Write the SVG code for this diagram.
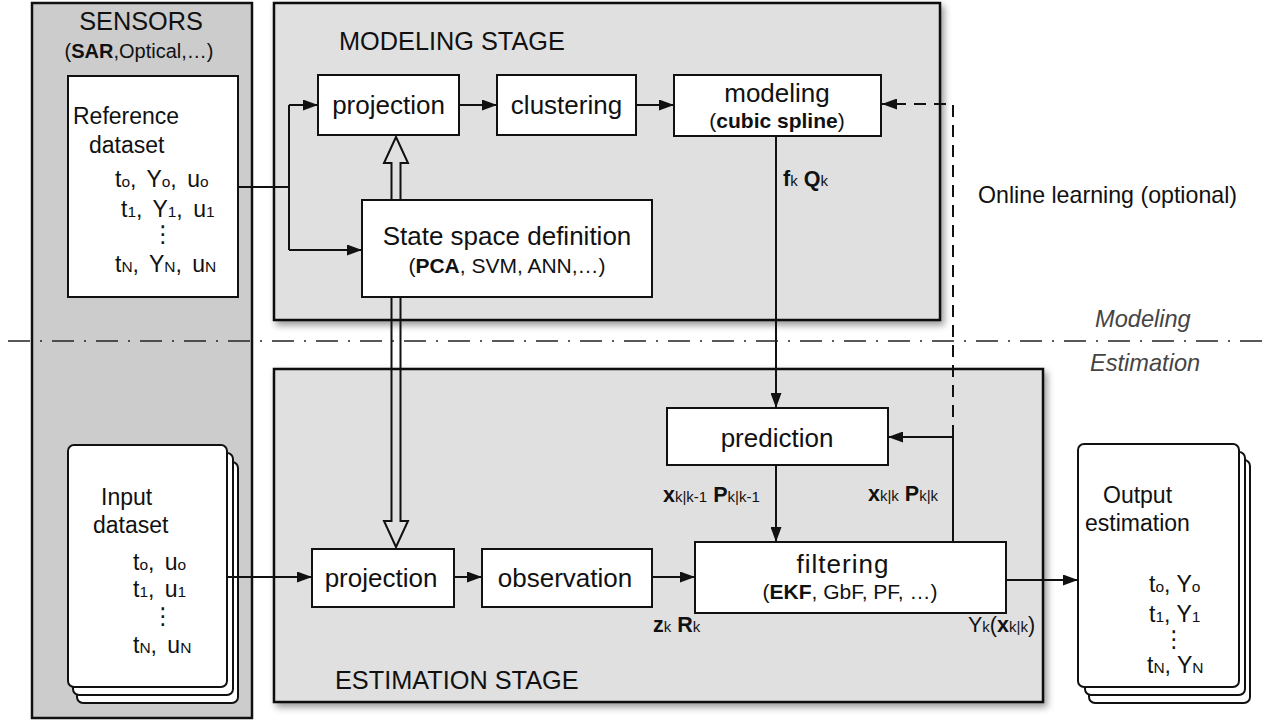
<svg xmlns="http://www.w3.org/2000/svg" width="1268" height="720" viewBox="0 0 1268 720">
  <style>
    text { font-family: "Liberation Sans", "DejaVu Sans", Arial, sans-serif; fill: #111; }
    .stage { fill: #e0e0e0; stroke: #111; stroke-width: 2.5; filter: url(#shadow); }
    .sensor { fill: #cccccc; stroke: #111; stroke-width: 2.5; }
    .box { fill: #fff; stroke: #111; stroke-width: 2; }
    .page { fill: #fff; stroke: #111; stroke-width: 2; }
    .title { font-size: 25.3px; }
    .lbl { font-size: 26px; text-anchor: middle; }
    .sublbl { font-size: 21px; text-anchor: middle; }
    .ds { font-size: 23px; }
    .row { font-size: 23px; }
    .wide { word-spacing: 4px; }
    .sub { font-size: 15.5px; }
    .b { font-weight: bold; }
    .math { font-size: 21.5px; }
    .math .sub { font-size: 15px; }
    .region { font-size: 23.6px; font-style: italic; fill: #444; }
    .wire { fill: none; stroke: #111; stroke-width: 2; }
    .dashed { fill: none; stroke: #111; stroke-width: 2; stroke-dasharray: 12 8; }
    .hollow { fill: none; stroke: #111; stroke-width: 2; stroke-linejoin: miter; }
    .divider { fill: none; stroke: #222; stroke-width: 1.6; stroke-dasharray: 22 10 2 10; }
  </style>
  <defs>
    <filter id="shadow" x="-5%" y="-5%" width="112%" height="115%">
      <feDropShadow dx="3" dy="4" stdDeviation="3.5" flood-color="#000" flood-opacity="0.4"/>
    </filter>
    <marker id="arrow" viewBox="0 0 15 11" refX="15" refY="5.5" markerWidth="15" markerHeight="11" markerUnits="userSpaceOnUse" orient="auto">
      <path d="M0,0 L15,5.5 L0,11 Z" fill="#111"/>
    </marker>
  </defs>

  <rect width="1268" height="720" fill="#fff"/>

  <!-- Sensors column -->
  <g id="sensors">
    <rect class="sensor" x="32" y="3" width="220" height="715"/>
    <text class="title" x="141" y="30" text-anchor="middle">SENSORS</text>
    <text x="139" y="58" font-size="20" text-anchor="middle">(<tspan class="b">SAR</tspan>,Optical,…)</text>
  </g>

  <!-- Stage panels -->
  <g id="modeling-stage">
    <rect class="stage" x="274" y="3" width="666" height="317"/>
    <text class="title" x="339" y="50">MODELING STAGE</text>
  </g>
  <g id="estimation-stage">
    <rect class="stage" x="274" y="369" width="769" height="333"/>
    <text class="title" x="335" y="689">ESTIMATION STAGE</text>
  </g>

  <!-- Reference dataset -->
  <g id="reference-dataset">
    <rect class="box" x="68" y="76" width="170" height="221"/>
    <text class="ds" x="73" y="124">Reference</text>
    <text class="ds" x="89" y="153">dataset</text>
    <text class="row wide" x="115" y="187">t<tspan class="sub">o</tspan>, Y<tspan class="sub">o</tspan>, u<tspan class="sub">o</tspan></text>
    <text class="row wide" x="121" y="217">t<tspan class="sub">1</tspan>, Y<tspan class="sub">1</tspan>, u<tspan class="sub">1</tspan></text>
    <text class="row" x="163" y="242" text-anchor="middle">⋮</text>
    <text class="row wide" x="115" y="272">t<tspan class="sub">N</tspan>, Y<tspan class="sub">N</tspan>, u<tspan class="sub">N</tspan></text>
  </g>

  <!-- Input dataset (stacked pages) -->
  <g id="input-dataset">
    <rect class="page" x="77" y="462" width="161" height="241" rx="6"/>
    <rect class="page" x="73" y="453" width="160" height="242" rx="6"/>
    <rect class="page" x="68" y="445" width="159" height="242" rx="6"/>
    <text class="ds" x="101" y="505">Input</text>
    <text class="ds" x="93" y="533">dataset</text>
    <text class="row wide" x="133" y="570">t<tspan class="sub">o</tspan>, u<tspan class="sub">o</tspan></text>
    <text class="row wide" x="133" y="597">t<tspan class="sub">1</tspan>, u<tspan class="sub">1</tspan></text>
    <text class="row" x="163" y="624" text-anchor="middle">⋮</text>
    <text class="row wide" x="133" y="653">t<tspan class="sub">N</tspan>, u<tspan class="sub">N</tspan></text>
  </g>

  <!-- Output estimation (stacked pages) -->
  <g id="output-estimation">
    <rect class="page" x="1089" y="460" width="161" height="243" rx="6"/>
    <rect class="page" x="1085" y="452" width="160" height="243" rx="6"/>
    <rect class="page" x="1078" y="444" width="161" height="243" rx="6"/>
    <text class="ds" x="1103" y="503">Output</text>
    <text class="ds" x="1085" y="531">estimation</text>
    <text class="row" x="1149" y="592">t<tspan class="sub">o</tspan>, Y<tspan class="sub">o</tspan></text>
    <text class="row" x="1149" y="622">t<tspan class="sub">1</tspan>, Y<tspan class="sub">1</tspan></text>
    <text class="row" x="1174" y="647" text-anchor="middle">⋮</text>
    <text class="row" x="1147" y="673">t<tspan class="sub">N</tspan>, Y<tspan class="sub">N</tspan></text>
  </g>

  <!-- Modeling stage blocks -->
  <g id="projection-model">
    <rect class="box" x="318" y="75" width="141" height="60"/>
    <text class="lbl" x="388.5" y="114">projection</text>
  </g>
  <g id="clustering">
    <rect class="box" x="497" y="75" width="139" height="60"/>
    <text class="lbl" x="566.5" y="114">clustering</text>
  </g>
  <g id="modeling">
    <rect class="box" x="674" y="75" width="207" height="61"/>
    <text class="lbl" x="777" y="102">modeling</text>
    <text class="sublbl" x="777" y="128">(<tspan class="b">cubic spline</tspan>)</text>
  </g>
  <g id="state-space">
    <rect class="box" x="362" y="200" width="290" height="97"/>
    <text class="lbl" x="507" y="245">State space definition</text>
    <text class="sublbl" x="507" y="273">(<tspan class="b">PCA</tspan>, SVM, ANN,…)</text>
  </g>

  <!-- Estimation stage blocks -->
  <g id="prediction">
    <rect class="box" x="667" y="408" width="221" height="57"/>
    <text class="lbl" x="777" y="447">prediction</text>
  </g>
  <g id="projection-estim">
    <rect class="box" x="312" y="549" width="142" height="58"/>
    <text class="lbl" x="381" y="587">projection</text>
  </g>
  <g id="observation">
    <rect class="box" x="482" y="549" width="170" height="58"/>
    <text class="lbl" x="565" y="587">observation</text>
  </g>
  <g id="filtering">
    <rect class="box" x="695" y="542" width="311" height="71"/>
    <text class="lbl" x="843" y="573" letter-spacing="1">filtering</text>
    <text class="sublbl" x="850" y="599">(<tspan class="b">EKF</tspan>, GbF, PF, …)</text>
  </g>

  <!-- Connectors -->
  <g id="connectors">
    <path class="wire" d="M238,187 H289"/>
    <path class="wire" d="M289,105 V250"/>
    <path class="wire" d="M289,105 H318" marker-end="url(#arrow)"/>
    <path class="wire" d="M289,250 H362" marker-end="url(#arrow)"/>
    <path class="wire" d="M459,105 H497" marker-end="url(#arrow)"/>
    <path class="wire" d="M636,105 H674" marker-end="url(#arrow)"/>
    <path class="wire" d="M776,136 V408" marker-end="url(#arrow)"/>
    <path class="wire" d="M776,465 V542" marker-end="url(#arrow)"/>
    <path class="wire" d="M953,542 V437 H888" marker-end="url(#arrow)"/>
    <path class="dashed" d="M953,437 V104 H882" marker-end="url(#arrow)"/>
    <path class="wire" d="M227,577 H312" marker-end="url(#arrow)"/>
    <path class="wire" d="M454,577 H482" marker-end="url(#arrow)"/>
    <path class="wire" d="M652,577 H695" marker-end="url(#arrow)"/>
    <path class="wire" d="M1006,580 H1078" marker-end="url(#arrow)"/>
    <!-- hollow double-line arrows from the state space block -->
    <path class="hollow" d="M391.5,200 V163 H384 L396,137 L408,163 H400.5 V200"/>
    <path class="hollow" d="M391.5,297 V521 H384 L396,547 L408,521 H400.5 V297"/>
  </g>

  <!-- Connector labels -->
  <g id="labels">
    <text class="math" x="783" y="186"><tspan class="b">f</tspan><tspan class="sub">k</tspan> <tspan class="b">Q</tspan><tspan class="sub">k</tspan></text>
    <text class="math" x="663" y="502"><tspan class="b">x</tspan><tspan class="sub">k|k-1</tspan> <tspan class="b">P</tspan><tspan class="sub">k|k-1</tspan></text>
    <text class="math" x="868" y="501"><tspan class="b">x</tspan><tspan class="sub">k|k</tspan> <tspan class="b">P</tspan><tspan class="sub">k|k</tspan></text>
    <text class="math" x="653" y="632"><tspan class="b">z</tspan><tspan class="sub">k</tspan> <tspan class="b">R</tspan><tspan class="sub">k</tspan></text>
    <text class="math" x="968" y="632">Y<tspan class="sub">k</tspan>(<tspan class="b">x</tspan><tspan class="sub">k|k</tspan>)</text>
    <text x="978" y="203" font-size="23.2">Online learning (optional)</text>
  </g>

  <!-- Modeling / estimation divider -->
  <g id="divider">
    <path class="divider" d="M8,341 H1264"/>
    <text class="region" x="1095" y="327">Modeling</text>
    <text class="region" x="1090" y="371">Estimation</text>
  </g>
</svg>
